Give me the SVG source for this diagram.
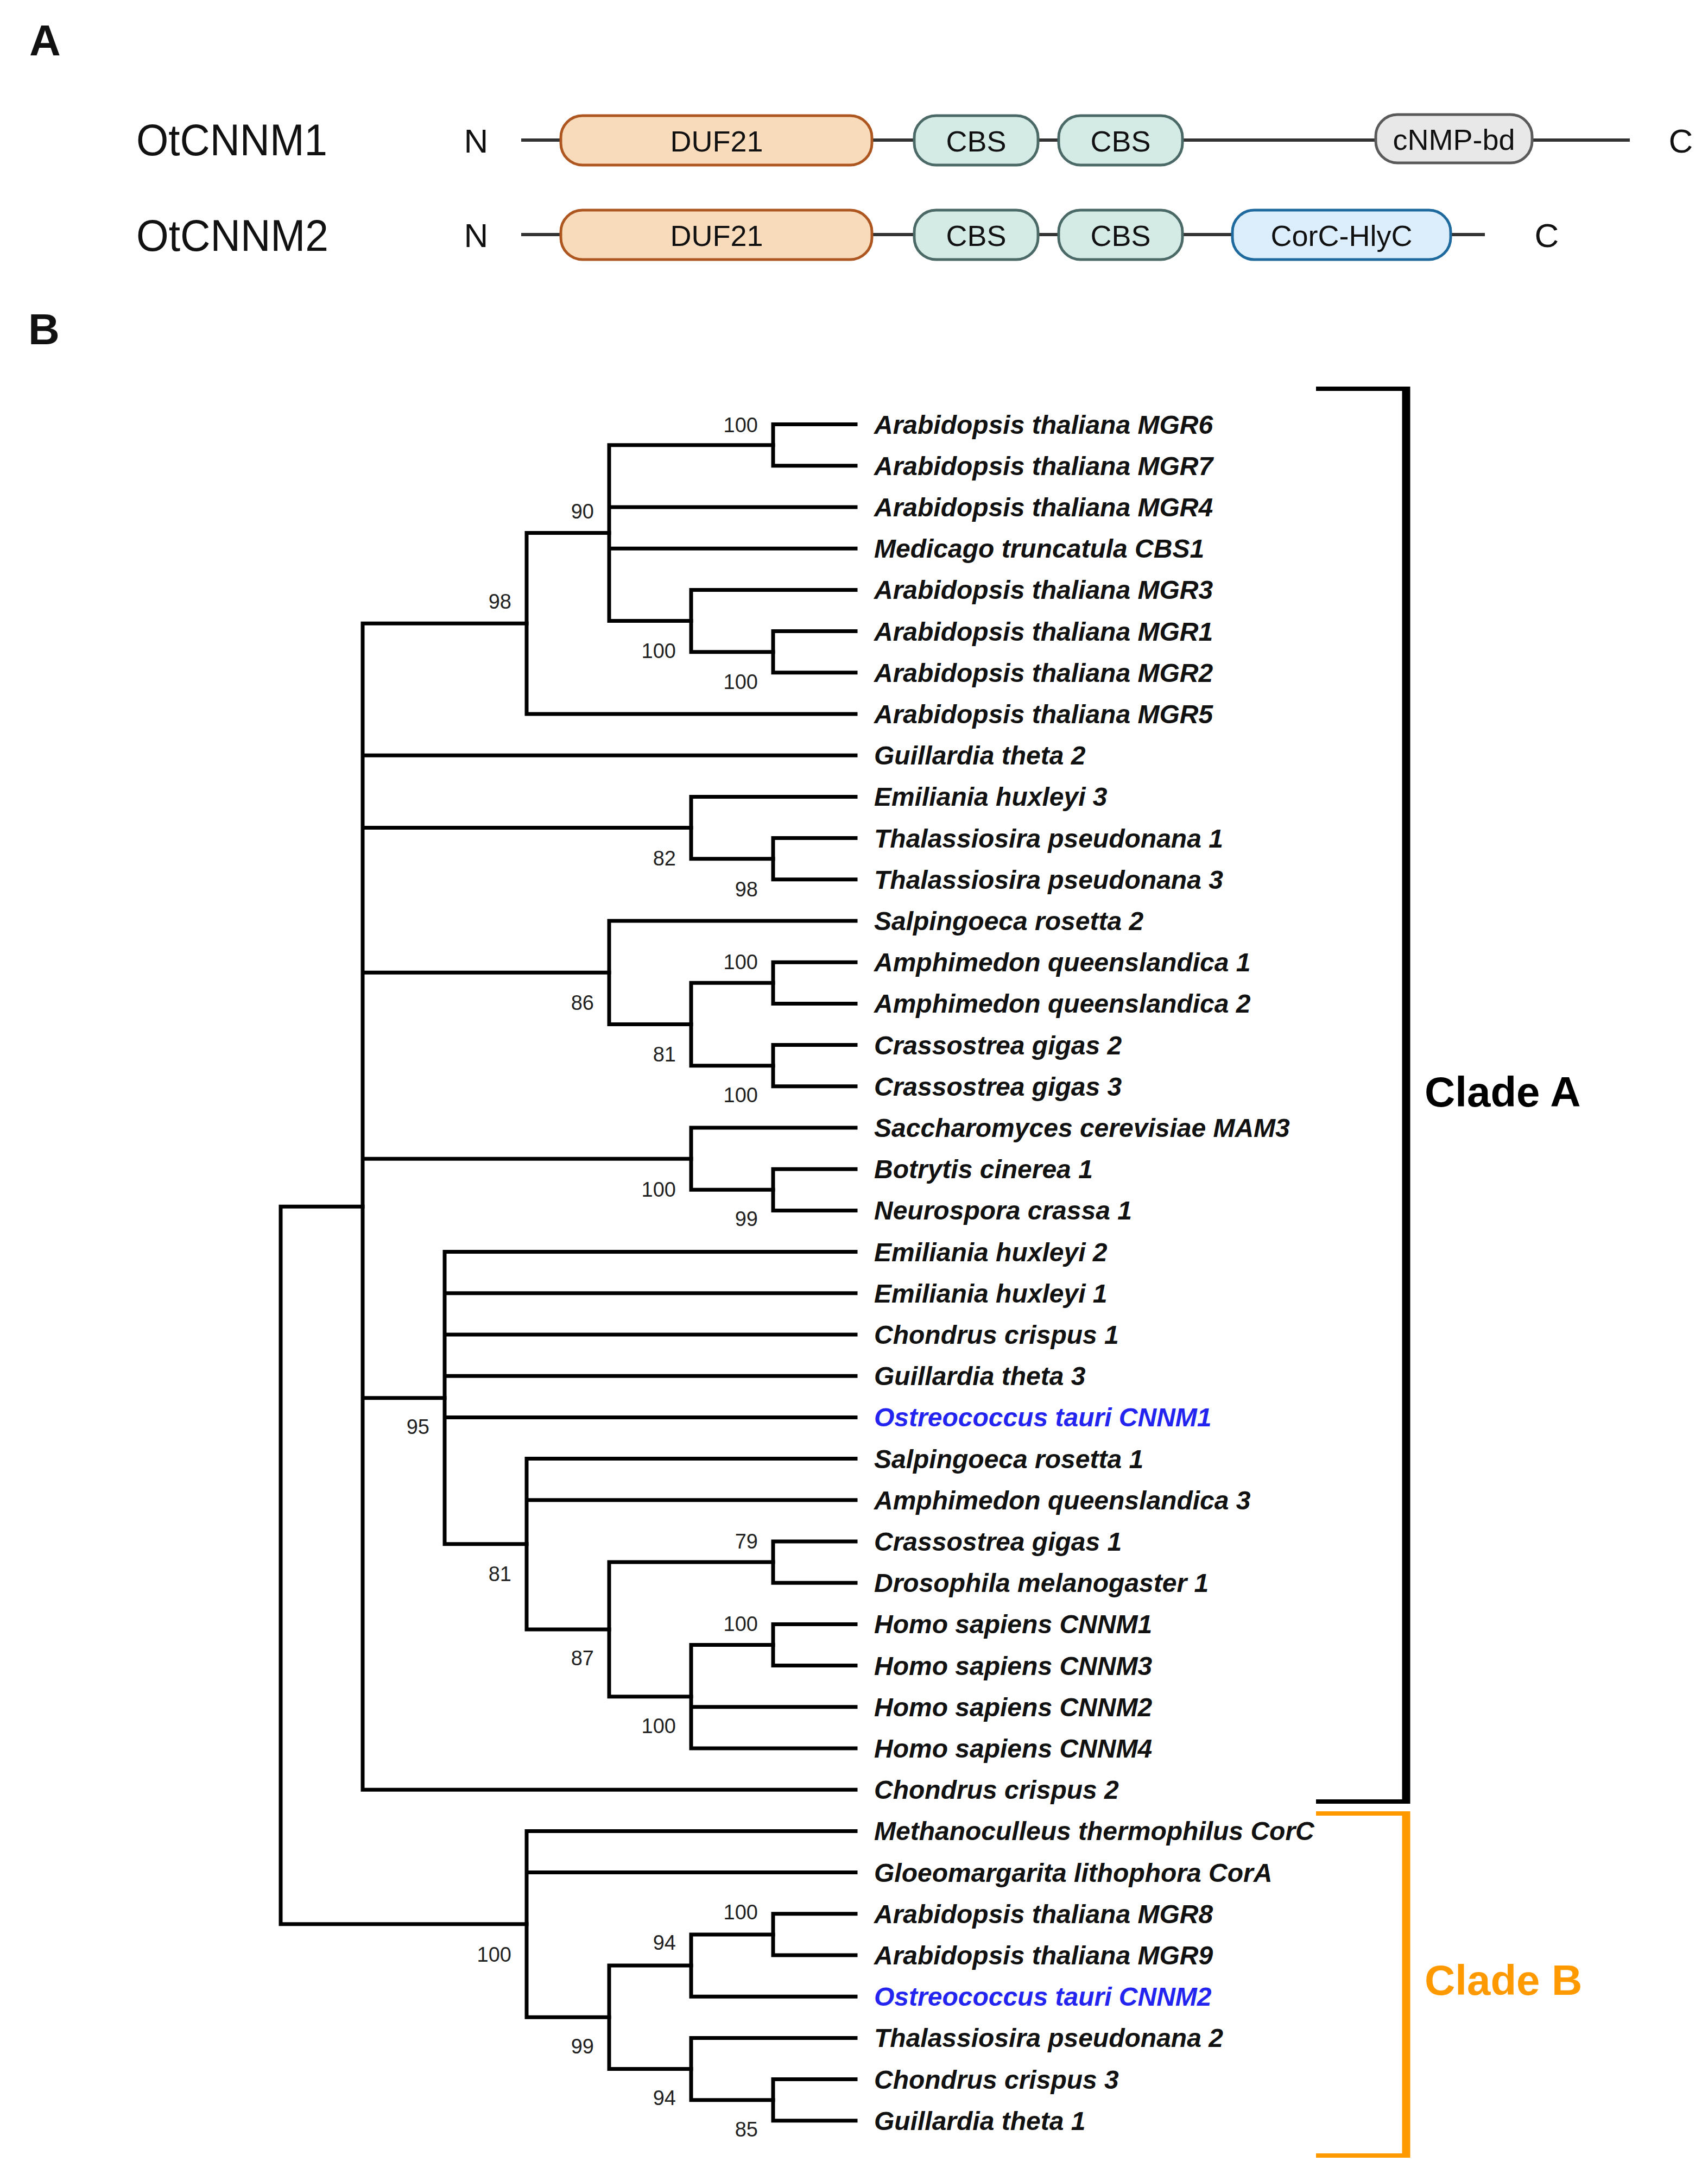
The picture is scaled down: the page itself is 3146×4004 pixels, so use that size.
<svg xmlns="http://www.w3.org/2000/svg" width="3146" height="4004" viewBox="0 0 3146 4004">
<style>
.bg{fill:#ffffff}
.panel{font-family:"Liberation Sans",Arial,sans-serif;font-weight:bold;font-size:80px;fill:#111}
.prot{font-family:"Liberation Sans",Arial,sans-serif;font-size:82px;fill:#111}
.term{font-family:"Liberation Sans",Arial,sans-serif;font-size:62px;fill:#111;text-anchor:middle}
.dom{font-family:"Liberation Sans",Arial,sans-serif;font-size:54px;fill:#111;text-anchor:middle}
.backbone{stroke:#333;stroke-width:6;fill:none}
.duf{fill:#F8DBBA;stroke:#AE5620;stroke-width:5}
.cbs{fill:#D4EAE5;stroke:#4B6966;stroke-width:5}
.cnmp{fill:#E8E8E8;stroke:#5A5A5A;stroke-width:5}
.corc{fill:#DCEEFC;stroke:#1E6A9E;stroke-width:5}
.br{stroke:#000;stroke-width:7;fill:none;stroke-linecap:square}
.leaf{font-family:"Liberation Sans",Arial,sans-serif;font-weight:bold;font-style:italic;font-size:48px;fill:#111}
.blue{fill:#2424F0}
.bs{font-family:"Liberation Sans",Arial,sans-serif;font-size:38px;fill:#222;text-anchor:end}
.cladeA{font-family:"Liberation Sans",Arial,sans-serif;font-weight:bold;font-size:78px;fill:#000}
.cladeB{font-family:"Liberation Sans",Arial,sans-serif;font-weight:bold;font-size:78px;fill:#FF9900}
</style>
<rect class="bg" x="0" y="0" width="3146" height="4004"/>

<g id="panelA">
  <text class="panel" x="54" y="102">A</text>
  <g id="otcnnm1">
    <text class="prot" x="251" y="286" textLength="352" lengthAdjust="spacingAndGlyphs">OtCNNM1</text>
    <text class="term" x="877" y="281">N</text>
    <line class="backbone" x1="960" y1="258" x2="3002" y2="258"/>
    <rect class="duf" x="1033" y="213" width="573" height="91" rx="40"/>
    <text class="dom" x="1320" y="279">DUF21</text>
    <rect class="cbs" x="1684" y="213" width="228" height="91" rx="40"/>
    <text class="dom" x="1798" y="279">CBS</text>
    <rect class="cbs" x="1950" y="213" width="228" height="91" rx="40"/>
    <text class="dom" x="2064" y="279">CBS</text>
    <rect class="cnmp" x="2534" y="211" width="288" height="89" rx="40"/>
    <text class="dom" x="2678" y="276">cNMP-bd</text>
    <text class="term" x="3096" y="281">C</text>
  </g>
  <g id="otcnnm2">
    <text class="prot" x="251" y="462" textLength="354" lengthAdjust="spacingAndGlyphs">OtCNNM2</text>
    <text class="term" x="877" y="455">N</text>
    <line class="backbone" x1="960" y1="432" x2="2735" y2="432"/>
    <rect class="duf" x="1033" y="387" width="573" height="91" rx="40"/>
    <text class="dom" x="1320" y="453">DUF21</text>
    <rect class="cbs" x="1684" y="387" width="228" height="91" rx="40"/>
    <text class="dom" x="1798" y="453">CBS</text>
    <rect class="cbs" x="1950" y="387" width="228" height="91" rx="40"/>
    <text class="dom" x="2064" y="453">CBS</text>
    <rect class="corc" x="2270" y="387" width="402" height="91" rx="40"/>
    <text class="dom" x="2471" y="453">CorC-HlyC</text>
    <text class="term" x="2849" y="455">C</text>
  </g>
</g>

<text class="panel" x="52" y="634">B</text>

<g id="connectors" class="br">
  <path d="M517,2222.25 V3543.85 M517,2222.25 H668 M517,3543.85 H970"/>
  <path d="M668,1148.3 V3296.2 M668,1148.3 H970 M668,1391.2 H1576 M668,1524.55 H1273 M668,1791.25 H1122 M668,2134.15 H1273 M668,2574.7 H819 M668,3296.2 H1576"/>
  <path d="M970,981.6 V1315 M970,981.6 H1122 M970,1315 H1576"/>
  <path d="M1122,819.7 V1143.55 M1122,819.7 H1424 M1122,934 H1576 M1122,1010.2 H1576 M1122,1143.55 H1273"/>
  <path d="M1424,781.6 V857.8 M1424,781.6 H1576 M1424,857.8 H1576"/>
  <path d="M1273,1086.4 V1200.7 M1273,1086.4 H1576 M1273,1200.7 H1424"/>
  <path d="M1424,1162.6 V1238.8 M1424,1162.6 H1576 M1424,1238.8 H1576"/>
  <path d="M1273,1467.4 V1581.7 M1273,1467.4 H1576 M1273,1581.7 H1424"/>
  <path d="M1424,1543.6 V1619.8 M1424,1543.6 H1576 M1424,1619.8 H1576"/>
  <path d="M1122,1696 V1886.5 M1122,1696 H1576 M1122,1886.5 H1273"/>
  <path d="M1273,1810.3 V1962.7 M1273,1810.3 H1424 M1273,1962.7 H1424"/>
  <path d="M1424,1772.2 V1848.4 M1424,1772.2 H1576 M1424,1848.4 H1576"/>
  <path d="M1424,1924.6 V2000.8 M1424,1924.6 H1576 M1424,2000.8 H1576"/>
  <path d="M1273,2077 V2191.3 M1273,2077 H1576 M1273,2191.3 H1424"/>
  <path d="M1424,2153.2 V2229.4 M1424,2153.2 H1576 M1424,2229.4 H1576"/>
  <path d="M819,2305.6 V2843.75 M819,2305.6 H1576 M819,2381.8 H1576 M819,2458 H1576 M819,2534.2 H1576 M819,2610.4 H1576 M819,2843.75 H970"/>
  <path d="M970,2686.6 V3000.9 M970,2686.6 H1576 M970,2762.8 H1576 M970,3000.9 H1122"/>
  <path d="M1122,2877.1 V3124.75 M1122,2877.1 H1424 M1122,3124.75 H1273"/>
  <path d="M1424,2839 V2915.2 M1424,2839 H1576 M1424,2915.2 H1576"/>
  <path d="M1273,3029.5 V3220 M1273,3029.5 H1424 M1273,3143.8 H1576 M1273,3220 H1576"/>
  <path d="M1424,2991.4 V3067.6 M1424,2991.4 H1576 M1424,3067.6 H1576"/>
  <path d="M970,3372.4 V3715.3 M970,3372.4 H1576 M970,3448.6 H1576 M970,3715.3 H1122"/>
  <path d="M1122,3620.05 V3810.55 M1122,3620.05 H1273 M1122,3810.55 H1273"/>
  <path d="M1273,3562.9 V3677.2 M1273,3562.9 H1424 M1273,3677.2 H1576"/>
  <path d="M1424,3524.8 V3601 M1424,3524.8 H1576 M1424,3601 H1576"/>
  <path d="M1273,3753.4 V3867.7 M1273,3753.4 H1576 M1273,3867.7 H1424"/>
  <path d="M1424,3829.6 V3905.8 M1424,3829.6 H1576 M1424,3905.8 H1576"/>
</g>

<g id="bootstrap">
  <text class="bs" x="1396" y="796">100</text>
  <text class="bs" x="1094" y="955">90</text>
  <text class="bs" x="942" y="1121">98</text>
  <text class="bs" x="1245" y="1212">100</text>
  <text class="bs" x="1396" y="1269">100</text>
  <text class="bs" x="1245" y="1594">82</text>
  <text class="bs" x="1396" y="1651">98</text>
  <text class="bs" x="1396" y="1785">100</text>
  <text class="bs" x="1094" y="1860">86</text>
  <text class="bs" x="1245" y="1955">81</text>
  <text class="bs" x="1396" y="2030">100</text>
  <text class="bs" x="1245" y="2204">100</text>
  <text class="bs" x="1396" y="2258">99</text>
  <text class="bs" x="791" y="2641">95</text>
  <text class="bs" x="1396" y="2852">79</text>
  <text class="bs" x="942" y="2912">81</text>
  <text class="bs" x="1396" y="3004">100</text>
  <text class="bs" x="1094" y="3067">87</text>
  <text class="bs" x="1245" y="3192">100</text>
  <text class="bs" x="1396" y="3535">100</text>
  <text class="bs" x="1245" y="3591">94</text>
  <text class="bs" x="942" y="3613">100</text>
  <text class="bs" x="1094" y="3782">99</text>
  <text class="bs" x="1245" y="3877">94</text>
  <text class="bs" x="1396" y="3935">85</text>
</g>

<g id="leaves">
  <text class="leaf" x="1610" y="799">Arabidopsis thaliana MGR6</text>
  <text class="leaf" x="1610" y="875">Arabidopsis thaliana MGR7</text>
  <text class="leaf" x="1610" y="951">Arabidopsis thaliana MGR4</text>
  <text class="leaf" x="1610" y="1027">Medicago truncatula CBS1</text>
  <text class="leaf" x="1610" y="1103">Arabidopsis thaliana MGR3</text>
  <text class="leaf" x="1610" y="1180">Arabidopsis thaliana MGR1</text>
  <text class="leaf" x="1610" y="1256">Arabidopsis thaliana MGR2</text>
  <text class="leaf" x="1610" y="1332">Arabidopsis thaliana MGR5</text>
  <text class="leaf" x="1610" y="1408">Guillardia theta 2</text>
  <text class="leaf" x="1610" y="1484">Emiliania huxleyi 3</text>
  <text class="leaf" x="1610" y="1561">Thalassiosira pseudonana 1</text>
  <text class="leaf" x="1610" y="1637">Thalassiosira pseudonana 3</text>
  <text class="leaf" x="1610" y="1713">Salpingoeca rosetta 2</text>
  <text class="leaf" x="1610" y="1789">Amphimedon queenslandica 1</text>
  <text class="leaf" x="1610" y="1865">Amphimedon queenslandica 2</text>
  <text class="leaf" x="1610" y="1942">Crassostrea gigas 2</text>
  <text class="leaf" x="1610" y="2018">Crassostrea gigas 3</text>
  <text class="leaf" x="1610" y="2094">Saccharomyces cerevisiae MAM3</text>
  <text class="leaf" x="1610" y="2170">Botrytis cinerea 1</text>
  <text class="leaf" x="1610" y="2246">Neurospora crassa 1</text>
  <text class="leaf" x="1610" y="2323">Emiliania huxleyi 2</text>
  <text class="leaf" x="1610" y="2399">Emiliania huxleyi 1</text>
  <text class="leaf" x="1610" y="2475">Chondrus crispus 1</text>
  <text class="leaf" x="1610" y="2551">Guillardia theta 3</text>
  <text class="leaf blue" x="1610" y="2627">Ostreococcus tauri CNNM1</text>
  <text class="leaf" x="1610" y="2704">Salpingoeca rosetta 1</text>
  <text class="leaf" x="1610" y="2780">Amphimedon queenslandica 3</text>
  <text class="leaf" x="1610" y="2856">Crassostrea gigas 1</text>
  <text class="leaf" x="1610" y="2932">Drosophila melanogaster 1</text>
  <text class="leaf" x="1610" y="3008">Homo sapiens CNNM1</text>
  <text class="leaf" x="1610" y="3085">Homo sapiens CNNM3</text>
  <text class="leaf" x="1610" y="3161">Homo sapiens CNNM2</text>
  <text class="leaf" x="1610" y="3237">Homo sapiens CNNM4</text>
  <text class="leaf" x="1610" y="3313">Chondrus crispus 2</text>
  <text class="leaf" x="1610" y="3389">Methanoculleus thermophilus CorC</text>
  <text class="leaf" x="1610" y="3466">Gloeomargarita lithophora CorA</text>
  <text class="leaf" x="1610" y="3542">Arabidopsis thaliana MGR8</text>
  <text class="leaf" x="1610" y="3618">Arabidopsis thaliana MGR9</text>
  <text class="leaf blue" x="1610" y="3694">Ostreococcus tauri CNNM2</text>
  <text class="leaf" x="1610" y="3770">Thalassiosira pseudonana 2</text>
  <text class="leaf" x="1610" y="3847">Chondrus crispus 3</text>
  <text class="leaf" x="1610" y="3923">Guillardia theta 1</text>
</g>

<g id="cladeA">
  <path d="M2424,716 H2590 V3318 H2424" fill="none" stroke="#000" stroke-width="8"/>
  <line x1="2590" y1="712" x2="2590" y2="3322" stroke="#000" stroke-width="15"/>
  <text class="cladeA" x="2624" y="2038">Clade A</text>
</g>
<g id="cladeB">
  <path d="M2424,3340 H2590 V3970 H2424" fill="none" stroke="#FF9900" stroke-width="8"/>
  <line x1="2590" y1="3336" x2="2590" y2="3974" stroke="#FF9900" stroke-width="15"/>
  <text class="cladeB" x="2624" y="3674">Clade B</text>
</g>
</svg>
